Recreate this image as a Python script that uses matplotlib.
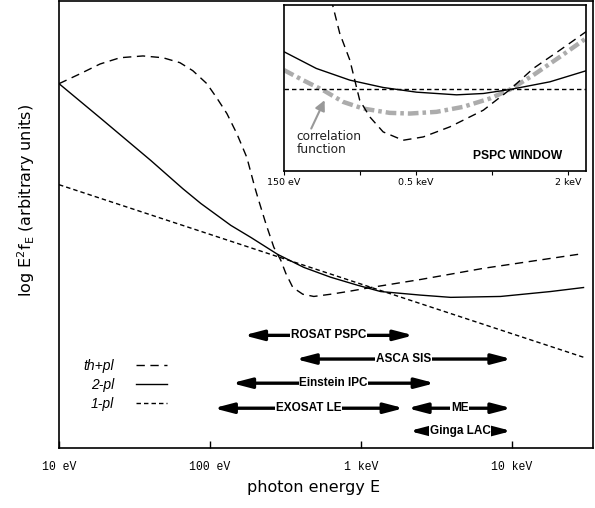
import numpy as np
import matplotlib.pyplot as plt

# main panel: x is log10(E / eV), y is log E^2 f_E in arbitrary units
logE_thpl = [1.0, 1.139, 1.272, 1.404, 1.556, 1.689, 1.801, 1.887, 1.980, 2.046,
             2.113, 2.179, 2.245, 2.298, 2.318, 2.371, 2.424, 2.470, 2.503, 2.550,
             2.616, 2.689, 2.801, 2.914, 3.066, 3.397, 3.815, 4.477]
sed_thpl = [8.15, 8.37, 8.59, 8.73, 8.77, 8.73, 8.62, 8.44, 8.15, 7.83,
            7.48, 7.03, 6.50, 5.83, 5.60, 5.02, 4.49, 4.20, 3.91, 3.59,
            3.44, 3.39, 3.44, 3.50, 3.59, 3.77, 4.02, 4.35]

logE_2pl = [1.0, 1.278, 1.609, 1.821, 1.940, 2.139, 2.272, 2.450, 2.623, 2.801,
            2.980, 3.132, 3.397, 3.596, 3.927, 4.258, 4.477]
sed_2pl = [8.15, 7.37, 6.43, 5.80, 5.47, 4.98, 4.71, 4.33, 4.04, 3.82,
           3.64, 3.50, 3.42, 3.37, 3.39, 3.50, 3.59]

logE_1pl = [1.0, 2.450, 4.477]
sed_1pl = [5.89, 4.28, 2.03]

# instrument bands (keV)
band_names = ['ROSAT PSPC', 'ASCA SIS', 'Einstein IPC', 'EXOSAT LE', 'ME', 'Ginga LAC']
band_lo_kev = [0.168, 0.37, 0.14, 0.106, 2.04, 2.1]
band_hi_kev = [2.24, 10.0, 3.1, 1.93, 10.0, 10.0]
band_rows = [2.52, 1.99, 1.45, 0.89, 0.89, 0.38]

main_ticks = [1, 2, 3, 4]
main_ticklabels = ['10 eV', '100 eV', '1 keV', '10 keV']

# PSPC window inset: x is log10(E / eV)
in_logE_2pl = [2.176, 2.304, 2.437, 2.569, 2.701, 2.860, 2.966, 3.072, 3.230, 3.373]
in_sed_2pl = [2.26, 1.26, 0.56, 0.12, -0.16, -0.32, -0.24, 0.0, 0.46, 1.12]

in_logE_thpl = [2.357, 2.397, 2.437, 2.476, 2.516, 2.569, 2.648, 2.728, 2.833,
                2.966, 3.072, 3.164, 3.270, 3.373]
in_sed_thpl = [5.76, 3.36, 1.76, -0.64, -1.64, -2.54, -3.04, -2.84, -2.24,
               -1.24, 0.0, 1.26, 2.36, 3.46]

in_logE_1pl = [2.176, 3.373]
in_sed_1pl = [0.0, 0.0]

in_logE_corr = [2.176, 2.251, 2.331, 2.410, 2.489, 2.595, 2.675, 2.780, 2.886,
                2.992, 3.072, 3.164, 3.270, 3.373]
in_sed_corr = [1.16, 0.56, -0.04, -0.74, -1.14, -1.40, -1.44, -1.34, -1.04,
               -0.54, 0.0, 0.86, 1.96, 3.06]

inset_tick_ev = [150, 300, 500, 1000, 2000]
inset_ticklabels = ['150 eV', '', '0.5 keV', '', '2 keV']

long_dash = (0, (6, 4))
short_dash = (0, (3.2, 2.2))

fig = plt.figure(figsize=(5.95, 5.08), dpi=100)
ax = fig.add_axes([0.0992, 0.1181, 0.8975, 0.880])

l_thpl, = ax.plot(logE_thpl, sed_thpl, color='black', lw=1.0, linestyle=long_dash)
l_2pl, = ax.plot(logE_2pl, sed_2pl, color='black', lw=1.0)
l_1pl, = ax.plot(logE_1pl, sed_1pl, color='black', lw=1.0, linestyle=short_dash)

for name, lo, hi, row in zip(band_names, band_lo_kev, band_hi_kev, band_rows):
    x0, x1 = np.log10(lo * 1e3), np.log10(hi * 1e3)
    ax.annotate('', xy=(x1, row), xytext=(x0, row),
                arrowprops=dict(arrowstyle='<|-|>,head_length=1.15,head_width=0.3',
                                lw=2.4, color='black', shrinkA=0, shrinkB=0,
                                mutation_scale=10))
    ax.text((x0 + x1) / 2, row, name, ha='center', va='center',
            family='Liberation Sans', fontweight='bold', fontsize=8.5,
            bbox=dict(fc='white', ec='none', pad=0.4), zorder=5)

ax.legend([l_thpl, l_2pl, l_1pl], ['th+pl', '2-pl', '1-pl'],
          loc='upper right', bbox_to_anchor=(0.2022, 0.2000),
          markerfirst=False, frameon=False,
          prop=dict(family='Liberation Sans', style='italic', size=10),
          handlelength=2.2, handletextpad=1.6, labelspacing=0.36,
          borderpad=0, borderaxespad=0)

ax.set_xlim(1.0, 4.54)
ax.set_ylim(0, 10)
ax.set_xticks(main_ticks)
ax.set_xticklabels(main_ticklabels, family='Liberation Mono', fontsize=8.3)
ax.set_yticks([])
ax.tick_params(axis='x', direction='in', length=5, width=1, pad=9)
for sp in ax.spines.values():
    sp.set_linewidth(1.2)

ax.set_xlabel('photon energy E', fontsize=11.5)
ax.xaxis.set_label_coords(0.476, -0.072)
ax.set_ylabel(r'log $\mathregular{E^2f_E}$ (arbitrary units)', fontsize=11.5)
ax.yaxis.set_label_coords(-0.042, 0.553)

# inset
axi = fig.add_axes([0.4773, 0.6634, 0.5076, 0.3268])
axi.plot(in_logE_corr, in_sed_corr, color='#acacac', lw=3.2,
         linestyle=(0, (2.4, 0.9, 0.8, 0.9)))
axi.plot(in_logE_2pl, in_sed_2pl, color='black', lw=1.0)
axi.plot(in_logE_thpl, in_sed_thpl, color='black', lw=1.0, linestyle=long_dash)
axi.plot(in_logE_1pl, in_sed_1pl, color='black', lw=1.0, linestyle=short_dash)

axi.set_xlim(2.176, 3.373)
axi.set_ylim(-4.88, 5.06)
axi.set_xticks(np.log10(inset_tick_ev))
axi.set_xticklabels(inset_ticklabels, family=['Liberation Sans Narrow', 'DejaVu Sans'],
                    fontsize=6.8)
axi.set_yticks([])
axi.tick_params(axis='x', direction='out', length=3, width=0.8, pad=2)
for sp in axi.spines.values():
    sp.set_linewidth(1.2)

axi.annotate('', xy=(2.337, -0.64), xytext=(2.284, -2.34),
             arrowprops=dict(arrowstyle='-|>,head_length=0.6,head_width=0.3',
                             color='#999999', lw=1.5, shrinkA=0, shrinkB=0))
axi.text(2.225, -3.2, 'correlation\nfunction', ha='left', va='center',
         fontsize=8.7, color='#222222', linespacing=1.0)
axi.text(3.101, -3.96, 'PSPC WINDOW', ha='center', va='center',
         family='Liberation Sans', fontweight='bold', fontsize=8.7)

fig.savefig('out.png', dpi=100)
